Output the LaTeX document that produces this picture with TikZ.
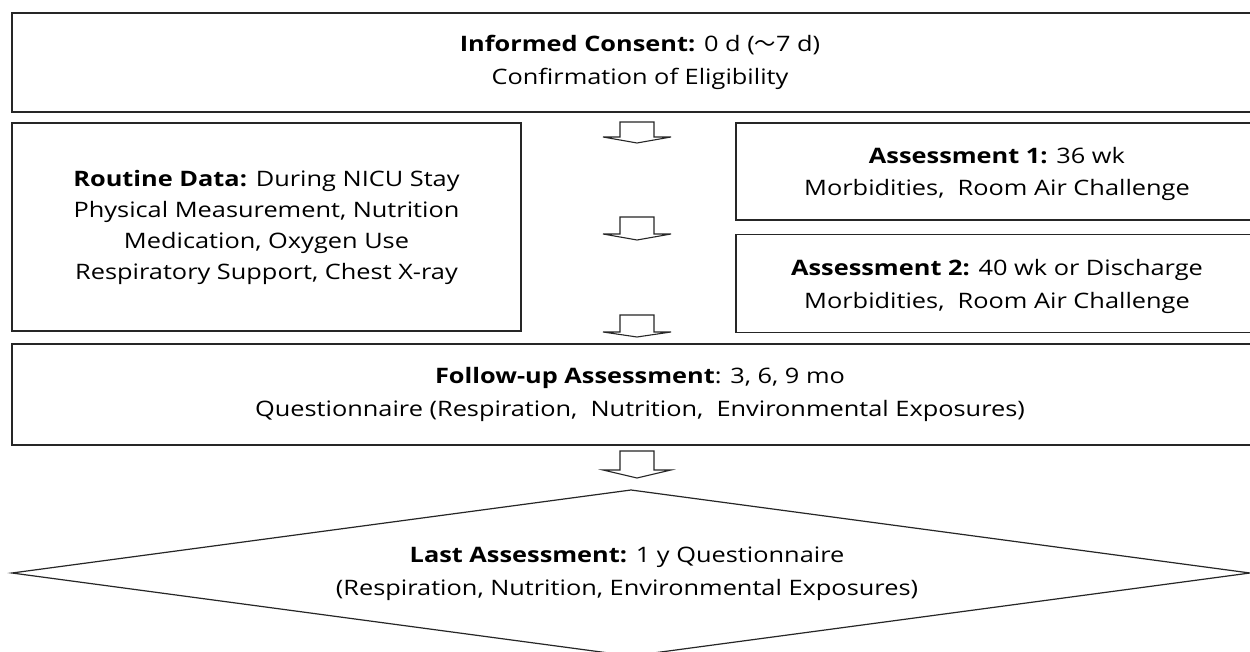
\documentclass[tikz,border=0pt]{standalone}
\usepackage{fontspec}
\setmainfont{Open Sans}[FakeStretch=1.19]
\newfontfamily\cjk{Noto Sans CJK JP}
\begin{document}
\begin{tikzpicture}[x=1pt,y=-1pt,
  box/.style={draw=black!85,line width=1.4pt,rectangle,inner sep=0pt},
  txt/.style={align=center,inner sep=0pt,font=\fontsize{21.3}{32.5}\selectfont},
  txtr/.style={align=center,inner sep=0pt,font=\fontsize{21.3}{31}\selectfont},
  barrow/.style={draw=black!85,line width=1.1pt,fill=white,line join=miter}]
\clip (0,0) rectangle (1250,652);
\fill[white] (0,0) rectangle (1250,652);
% boxes
\node[box,minimum width=1250pt,minimum height=99pt] (consent) at (637,62.5) {};
\node[box,minimum width=509pt,minimum height=208pt] (routine) at (266.5,227) {};
\node[box,minimum width=526pt,minimum height=97pt] (as1) at (999,171.5) {};
\node[box,minimum width=526pt,minimum height=98pt] (as2) at (999,283.5) {};
\node[box,minimum width=1250pt,minimum height=101pt] (follow) at (637,394.5) {};
\draw[draw=black!85,line width=1.2pt] (12,573) coordinate (dl) -- (631,490) coordinate (dt) -- (1250,573) coordinate (dr) -- (631,656) coordinate (db) -- cycle;
\coordinate (last) at (631,573);
% texts
\node[txt] at (640,62.5) {\textbf{Informed Consent:} 0 d ({\cjk ～}7 d)\\Confirmation of Eligibility};
\node[txtr] at (266.5,227) {\textbf{Routine Data:} During NICU Stay\\Physical Measurement, Nutrition\\Medication,\ Oxygen Use\\Respiratory Support,\ Chest X-ray};
\node[txt] at (997,174) {\textbf{Assessment 1:} 36 wk\\Morbidities,\ \ Room Air Challenge};
\node[txt] at (997,286.5) {\textbf{Assessment 2:} 40 wk or Discharge\\Morbidities,\ \ Room Air Challenge};
\node[txt] at (640,394.5) {\textbf{Follow-up Assessment}: 3, 6, 9 mo\\Questionnaire (Respiration,\ \ Nutrition,\ \ Environmental Exposures)};
\node[txt] at (627,573.5) {\textbf{Last Assessment:} 1 y Questionnaire\\(Respiration, Nutrition, Environmental Exposures)};
% block arrows
\foreach \t/\b/\p in {122/137/143, 217/234/240, 315/332/337, 451/470/478}{
  \draw[barrow] (620,\t) -- (654,\t) -- (654,\b) -- (671,\b) -- (637,\p) -- (603,\b) -- (620,\b) -- cycle;
}
\end{tikzpicture}
\end{document}
